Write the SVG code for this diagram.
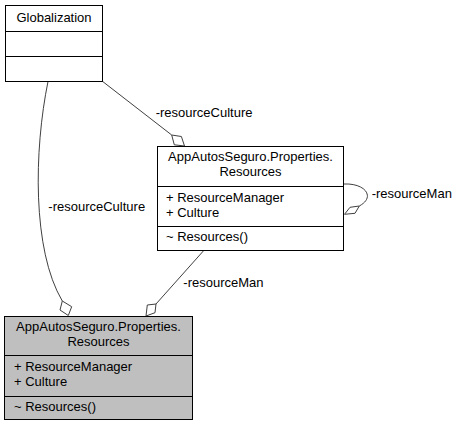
<svg xmlns="http://www.w3.org/2000/svg" width="457" height="427" viewBox="0 0 457 427">
<style>
.box{fill:#ffffff;stroke:#000000;stroke-width:1}
.cur{fill:#bfbfbf;stroke:#000000;stroke-width:1}
.div{stroke:#000000;stroke-width:1;fill:none}
text{font-family:"Liberation Sans",Arial,Helvetica,sans-serif;font-size:13px;fill:#000000}
.c{text-anchor:middle}
.edge{fill:none;stroke:#404040;stroke-width:1}
.dia{fill:#ffffff;stroke:#404040;stroke-width:1}
</style>
<rect width="457" height="427" fill="#ffffff"/>
<g id="connectors">
  <path class="edge" d="M48,81.5 C34,150 32,250 62.3,301"/>
  <polygon class="dia" points="62.3,301 71.7,306.7 68.3,315.5 60,310"/>
  <path class="edge" d="M102.7,81.5 L171.7,135"/>
  <polygon class="dia" points="171.7,135 181.4,136.5 184.5,146 174.3,144.8"/>
  <path class="edge" d="M203.3,251 L156,304"/>
  <polygon class="dia" points="156,304 155,312.7 146,316 147.3,305"/>
  <path class="edge" d="M344,184 C365,183 376,197 359.3,206"/>
  <polygon class="dia" points="359.3,206 355,213.3 344.5,214.3 350,207.3"/>
  <text x="155.7" y="116.5">-resourceCulture</text>
  <text x="48.3" y="211">-resourceCulture</text>
  <text x="371.7" y="197.5">-resourceMan</text>
  <text x="183.3" y="286.5">-resourceMan</text>
</g>
<g id="Globalization">
  <rect class="box" x="5.5" y="5.5" width="97" height="76"/>
  <line class="div" x1="5.5" y1="31.5" x2="102.5" y2="31.5"/>
  <line class="div" x1="5.5" y1="56.5" x2="102.5" y2="56.5"/>
  <text class="c" x="54" y="22">Globalization</text>
</g>
<g id="Resources_top">
  <rect class="box" x="157.5" y="146.5" width="186" height="104"/>
  <line class="div" x1="157.5" y1="186.5" x2="343.5" y2="186.5"/>
  <line class="div" x1="157.5" y1="226.5" x2="343.5" y2="226.5"/>
  <text class="c" x="250.5" y="160.7">AppAutosSeguro.Properties.</text>
  <text class="c" x="250.5" y="175.5">Resources</text>
  <text x="166" y="202">+ ResourceManager</text>
  <text x="166" y="216.7">+ Culture</text>
  <text x="166" y="240.5">~ Resources()</text>
</g>
<g id="Resources_current">
  <rect class="cur" x="4.5" y="316.5" width="188" height="103"/>
  <line class="div" x1="4.5" y1="355.5" x2="192.5" y2="355.5"/>
  <line class="div" x1="4.5" y1="396.5" x2="192.5" y2="396.5"/>
  <text class="c" x="98.5" y="330.7">AppAutosSeguro.Properties.</text>
  <text class="c" x="98.5" y="345.5">Resources</text>
  <text x="14" y="371">+ ResourceManager</text>
  <text x="14" y="385.7">+ Culture</text>
  <text x="14" y="410.5">~ Resources()</text>
</g>
</svg>
